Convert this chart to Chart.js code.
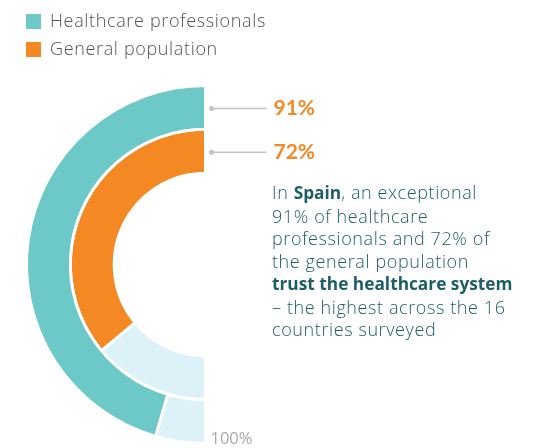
<!DOCTYPE html>
<html>
<head>
<meta charset="utf-8">
<script src="https://cdn.jsdelivr.net/npm/chart.js@4.4.1/dist/chart.umd.min.js"></script>
<style>
    html, body { margin: 0; padding: 0; background: #fff; }
    #wrap { position: relative; width: 537px; height: 448px; overflow: hidden; font-family: "Open Sans", Lato, sans-serif; }
    #chart { position: absolute; left: 0; top: 0; }
    .legend { position: absolute; left: 26px; font-size: 18px; color: #555; line-height: 18px; letter-spacing: 0.65px; font-weight: 350; }
    .legend span { display: inline-block; width: 15px; height: 15px; vertical-align: -2px; margin-right: 9px; }
    #note { position: absolute; left: 272px; top: 181px; font-size: 18px; line-height: 22.5px; color: #1d5f67; letter-spacing: 0.6px; font-weight: 350; }
    #note b { font-weight: 700; letter-spacing: 0; font-size: 17.3px; }
</style>
</head>
<body>
<div id="wrap">
    <canvas id="chart" width="537" height="448"></canvas>
    <div class="legend" id="leg0" style="top:11px"></div>
    <div class="legend" id="leg1" style="top:39px"></div>
    <div id="note">In <b>Spain</b>, an exceptional<br>91% of healthcare<br>professionals and 72% of<br>the general population<br><b>trust the healthcare system</b><br>– the highest across the 16<br>countries surveyed</div>
</div>
<script>
const categories = ["Healthcare professionals", "General population"];
const trustValues = [91, 72];
const totalValue = 100;
const valueLabels = ["91%", "72%"];
const scaleLabel = "100%";
const ringColors = ["#6dc9c7", "#f48822"];
const restColor = "#ddf1f8";

categories.forEach(function (name, i) {
    document.getElementById("leg" + i).innerHTML =
        '<span style="background:' + ringColors[i] + '"></span>' + name;
});

const labelPlugin = {
    id: "ringLabels",
    afterDraw(chart) {
        const ctx = chart.ctx;
        ctx.save();
        let cx = 0, cy = 0, outer = 0;
        categories.forEach(function (name, i) {
            const arc = chart.getDatasetMeta(i).data[1];
            const p = arc.getProps(["x", "y", "innerRadius", "outerRadius"], true);
            if (i === 0) { cx = p.x; cy = p.y; outer = p.outerRadius; }
            const ly = p.y - (p.innerRadius + p.outerRadius) / 2 + 1;
            ctx.strokeStyle = "#c3c3c6";
            ctx.fillStyle = "#c3c3c6";
            ctx.lineWidth = 1.5;
            ctx.beginPath();
            ctx.arc(p.x + 6, ly, 2.5, 0, 2 * Math.PI);
            ctx.fill();
            ctx.beginPath();
            ctx.moveTo(p.x + 6, ly);
            ctx.lineTo(p.x + 61, ly);
            ctx.stroke();
            ctx.fillStyle = "#f48822";
            ctx.font = "bold 21px Lato, 'Open Sans', sans-serif";
            ctx.textBaseline = "middle";
            ctx.fillText(valueLabels[i], p.x + 68, ly);
        });
        ctx.fillStyle = "#a9a9ab";
        ctx.font = "16.5px 'Open Sans', Lato, sans-serif";
        ctx.textBaseline = "alphabetic";
        ctx.fillText(scaleLabel, cx + 5, cy + outer);
        ctx.restore();
    },
};

new Chart(document.getElementById("chart"), {
    type: "doughnut",
    data: {
        labels: ["Rest", "Trust"],
        datasets: categories.map(function (name, i) {
            return {
                label: name,
                data: [totalValue - trustValues[i], trustValues[i]],
                backgroundColor: [restColor, ringColors[i]],
                borderColor: "#ffffff",
                borderWidth: 3,
            };
        }),
    },
    options: {
        responsive: false,
        animation: false,
        events: [],
        rotation: 180,
        circumference: 180,
        cutout: "51%",
        layout: { padding: { left: 25, right: 330, top: 84, bottom: 3 } },
        plugins: {
            legend: { display: false },
            tooltip: { enabled: false },
        },
    },
    plugins: [labelPlugin],
});
</script>
</body>
</html>
